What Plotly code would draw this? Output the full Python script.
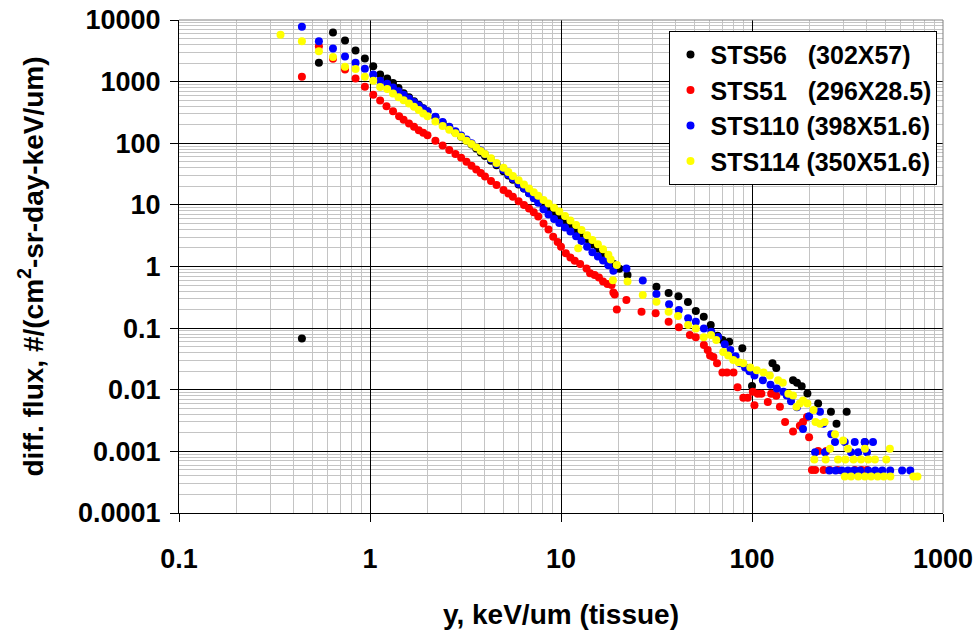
import plotly.graph_objects as go

# ---------------- data ----------------
sts56_x = [0.44, 0.54, 0.64, 0.74, 0.84, 0.94, 1.04, 1.13, 1.23, 1.32, 1.41,
           1.5, 1.6, 1.7, 1.8, 1.9, 2.0,
           2.2, 2.4, 2.6, 2.8, 3.0, 3.2, 3.4, 3.6, 3.8, 4.0,
           4.3, 4.6, 5.0, 5.3, 5.6, 6.0, 6.4, 6.8, 7.2, 7.6,
           8.1, 8.6, 9.2, 9.8, 10.5, 11.2, 12.0, 12.8, 13.7, 14.6,
           15.6, 16.6, 17.7, 18.9, 20.2, 22.3,
           31.6, 36.6, 41.2, 46.2, 50.8, 55.9, 60.8, 66, 70, 76,
           89, 100, 128, 134, 164, 172, 182, 195, 222, 259,
           277, 313, 390]
sts56_y = [0.068, 2015, 6270, 4640, 3190, 2366, 1775, 1300, 1120, 950, 790,
           650, 560, 480, 420, 370, 330,
           265, 215, 180, 150, 128, 110, 95, 82, 71, 62,
           52, 44, 35, 30, 25.5, 21.5, 18.5, 15.5, 13.5, 11.8,
           9.8, 8.6, 7.4, 6.5, 5.5, 4.7, 4.0, 3.4, 2.8, 2.3,
           1.95, 1.65, 1.35, 1.1, 0.92, 0.73,
           0.47, 0.37, 0.33, 0.265, 0.19, 0.153, 0.112, 0.075, 0.064, 0.06,
           0.047, 0.0115, 0.027, 0.0225, 0.0143, 0.013, 0.0114, 0.0087, 0.006, 0.0044,
           0.0028, 0.0044, 0.0014]

sts51_x = [0.44, 0.54, 0.64, 0.74, 0.84, 0.94,
           1.04, 1.13, 1.22, 1.32, 1.42,
           1.5, 1.6, 1.7, 1.8, 1.9, 2.0,
           2.2, 2.4, 2.6, 2.8, 3.0, 3.2, 3.4, 3.6, 3.8, 4.0,
           4.3, 4.6, 5.0, 5.3, 5.6, 6.0, 6.4, 6.8, 7.2, 7.6,
           8.1, 8.6, 9.1, 9.6, 10.0, 10.6, 11.2, 11.8, 12.6, 13.6,
           14.2, 15.0, 15.8, 16.6, 17.5, 18.4, 18.8, 19.1, 19.6, 22.0,
           26.4, 31.3, 36.6, 41.4, 47.3, 50.8, 56, 58.6, 60.3, 62.8,
           65.6, 70, 74, 80, 84, 90, 95, 101, 103, 107,
           112, 121, 126, 134, 140, 149, 164, 178, 185, 194,
           199, 206, 214, 222, 237, 245, 255, 281, 346, 375,
           400]
sts51_y = [1195, 3750, 2340, 1570, 1120, 829,
           615, 495, 400, 330, 275,
           240, 210, 185, 163, 148, 135,
           110, 92, 78, 67, 58, 50, 43, 37.5, 33, 29,
           24.5, 21, 17.5, 15.3, 13.5, 11.5, 10.0, 8.7, 7.6, 6.5,
           5.0, 4.0, 3.05, 2.5, 2.1, 1.64, 1.4, 1.24, 1.1, 0.93,
           0.78, 0.73, 0.66, 0.57, 0.52, 0.5, 0.38, 0.35, 0.2, 0.285,
           0.184, 0.174, 0.127, 0.103, 0.077, 0.071, 0.053, 0.044, 0.036, 0.034,
           0.027, 0.019, 0.019, 0.019, 0.011, 0.0074, 0.0074, 0.0093, 0.0056, 0.0086,
           0.0086, 0.0063, 0.0086, 0.008, 0.0053, 0.003, 0.0021, 0.0026, 0.003, 0.0036,
           0.0017, 0.0005, 0.0005, 0.00101, 0.0005, 0.00101, 0.0005, 0.0005, 0.0005, 0.0005,
           0.0005]

sts110_x = [0.44, 0.54, 0.64, 0.74, 0.84, 0.94, 1.04, 1.13, 1.23, 1.32, 1.41,
            1.5, 1.6, 1.7, 1.8, 1.9, 2.0,
            2.2, 2.4, 2.6, 2.8, 3.0, 3.2, 3.4, 3.6, 3.8, 4.0,
            4.3, 4.6, 5.0, 5.3, 5.6, 6.0, 6.4, 6.8, 7.2, 7.6,
            8.1, 8.6, 9.2, 9.8, 10.5, 11.2, 12.0, 12.8, 13.7, 14.6,
            15.6, 16.6, 17.7, 18.8, 22.0,
            26.8, 31.6, 36.8, 41.4, 46.3, 50.8, 56, 61.2, 66.5, 72,
            77, 82, 86.5, 92, 97, 103, 114, 125, 135, 146,
            152, 160, 172, 185, 199, 227, 236, 260,
            272, 306, 345, 389, 430,
            214, 241, 330, 360, 400,
            254, 274, 295, 318, 342, 368, 406, 442, 481, 529, 611, 674]
sts110_y = [7760, 4520, 3440, 2550, 2015, 1625, 1300, 1038, 927, 800, 700,
            610, 530, 465, 410, 365, 330,
            270, 222, 185, 156, 134, 115, 100, 87, 76, 66,
            55, 46, 37, 31, 26.5, 22, 18.5, 15.5, 12.8, 10.8,
            8.5, 7.0, 5.9, 5.1, 4.3, 3.7, 3.1, 2.6, 2.1, 1.7,
            1.45, 1.25, 1.05, 0.85, 0.93,
            0.59, 0.357, 0.245, 0.196, 0.144, 0.127, 0.099, 0.0873, 0.072, 0.055,
            0.044, 0.035, 0.0268, 0.023, 0.02, 0.0171, 0.0143, 0.012, 0.0105, 0.0093,
            0.0081, 0.0065, 0.0052, 0.0023, 0.0037, 0.0044, 0.0028, 0.0019,
            0.00142, 0.00142, 0.00142, 0.00142, 0.00142,
            0.00097, 0.00097, 0.00097, 0.00097, 0.00097,
            0.00049, 0.00049, 0.00049, 0.00049, 0.00049, 0.00049,
            0.00049, 0.00049, 0.00049, 0.00049, 0.00049, 0.00049]

sts114_x = [0.34, 0.44, 0.54, 0.64, 0.74, 0.84, 0.94,
            1.04, 1.13, 1.23, 1.32, 1.41,
            1.5, 1.6, 1.7, 1.8, 1.9, 2.0,
            2.2, 2.4, 2.6, 2.8, 3.0, 3.2, 3.4, 3.6, 3.8, 4.0,
            4.3, 4.6, 5.0, 5.3, 5.6, 6.0, 6.4, 6.8, 7.2, 7.6,
            8.1, 8.6, 9.2, 9.8, 10.5, 11.2, 12.0, 12.3, 12.8, 13.7,
            14.6, 15.6, 16.6, 17.7, 18.2, 18.7, 19.6, 22.3,
            26.8, 31.6, 36.6, 41.0, 46.3, 50.8, 55.9, 61.0, 65.0, 70.7,
            75, 79.8, 85, 90, 98, 106, 115, 124, 137, 145,
            155, 164, 171, 178, 185, 195, 210, 215, 227, 240,
            256, 272, 300, 318, 390, 527,
            212, 243, 282, 308, 340, 372, 406, 440, 505,
            306, 330, 360, 390, 420, 455, 490, 530, 700, 735]
sts114_y = [5750, 4520, 3110, 2520, 1740, 1606, 1195,
            1038, 820, 760, 640, 560,
            500, 440, 390, 345, 305, 275,
            225, 190, 165, 145, 128, 110, 97, 86, 75, 67,
            57, 48, 40, 34, 29.5, 25, 21.5, 18.5, 16, 14,
            12, 10.5, 9, 7.8, 6.6, 5.6, 4.7, 1.98, 3.9, 3.2,
            2.7, 2.3, 1.9, 1.55, 1.3, 0.6, 1.06, 0.57,
            0.344, 0.268, 0.184, 0.158, 0.112, 0.099, 0.071, 0.077, 0.064, 0.041,
            0.036, 0.0303, 0.028, 0.0268, 0.023, 0.0207, 0.019, 0.0171, 0.0143, 0.013,
            0.0086, 0.0081, 0.0053, 0.006, 0.0067, 0.006, 0.0047, 0.003, 0.0028, 0.003,
            0.0011, 0.0019, 0.0015, 0.0011, 0.0011, 0.0011,
            0.00074, 0.00074, 0.00074, 0.00074, 0.00074, 0.00074, 0.00074, 0.00074, 0.00074,
            0.00039, 0.00039, 0.00039, 0.00039, 0.00039, 0.00039, 0.00039, 0.00039, 0.00039, 0.00039]

series_names = ["STS56\u00a0\u00a0\u00a0(302X57)",
                "STS51\u00a0\u00a0\u00a0(296X28.5)",
                "STS110\u00a0(398X51.6)",
                "STS114\u00a0(350X51.6)"]
series_colors = ["#000000", "#FF0000", "#0000FF", "#FFFF00"]
series_x = [sts56_x, sts51_x, sts110_x, sts114_x]
series_y = [sts56_y, sts51_y, sts110_y, sts114_y]

x_tickvals = [0.1, 1, 10, 100, 1000]
x_ticktext = ["0.1", "1", "10", "100", "1000"]
y_tickvals = [1e4, 1e3, 1e2, 1e1, 1, 0.1, 0.01, 0.001, 0.0001]
y_ticktext = ["10000", "1000", "100", "10", "1", "0.1", "0.01", "0.001", "0.0001"]

FONT = "Liberation Sans, Arial, sans-serif"

fig = go.Figure()
for name, xs, ys, col in zip(series_names, series_x, series_y, series_colors):
    fig.add_trace(go.Scatter(
        x=xs, y=ys, mode="markers", name=name,
        marker=dict(color=col, size=8, line=dict(width=0)),
    ))

axis_common = dict(
    type="log",
    automargin=False,
    showline=True, linecolor="black", linewidth=1,
    ticks="outside", ticklen=8, tickcolor="black", tickwidth=1,
    showgrid=True, gridcolor="black", gridwidth=1,
    minor=dict(dtick="D1", showgrid=True, gridcolor="#c4c4c4", gridwidth=1, ticks=""),
    tickfont=dict(family=FONT, size=27, color="black", weight="bold"),
    zeroline=False,
)

fig.update_layout(
    width=979, height=631,
    margin=dict(l=179, r=36, t=20, b=118, autoexpand=False),
    paper_bgcolor="white", plot_bgcolor="white",
    font=dict(family=FONT, color="black"),
    xaxis=dict(axis_common, range=[-1, 3], tickvals=x_tickvals, ticktext=x_ticktext,
               ticklabelstandoff=14,
               title=dict(text="y, keV/um (tissue)", standoff=30,
                          font=dict(family=FONT, size=28, color="black", weight="bold"))),
    yaxis=dict(axis_common, range=[-4, 4], tickvals=y_tickvals, ticktext=y_ticktext,
               ticklabelstandoff=4,
               title=dict(text="diff. flux, #/(cm<sup>2</sup>-sr-day-keV/um)", standoff=26,
                          font=dict(family=FONT, size=28, color="black", weight="bold"))),
    legend=dict(x=0.642, y=0.978, xanchor="left", yanchor="top",
                bgcolor="white", bordercolor="black", borderwidth=1,
                font=dict(family=FONT, size=25, color="black", weight="bold"),
                tracegroupgap=0, itemwidth=30),
    showlegend=True,
)

fig.add_shape(type="line", xref="paper", yref="paper", x0=0, x1=1, y0=1, y1=1,
              line=dict(color="#808080", width=1), layer="above")
fig.add_shape(type="line", xref="paper", yref="paper", x0=1, x1=1, y0=0, y1=1,
              line=dict(color="#808080", width=1), layer="above")

fig.write_html("out.html")
